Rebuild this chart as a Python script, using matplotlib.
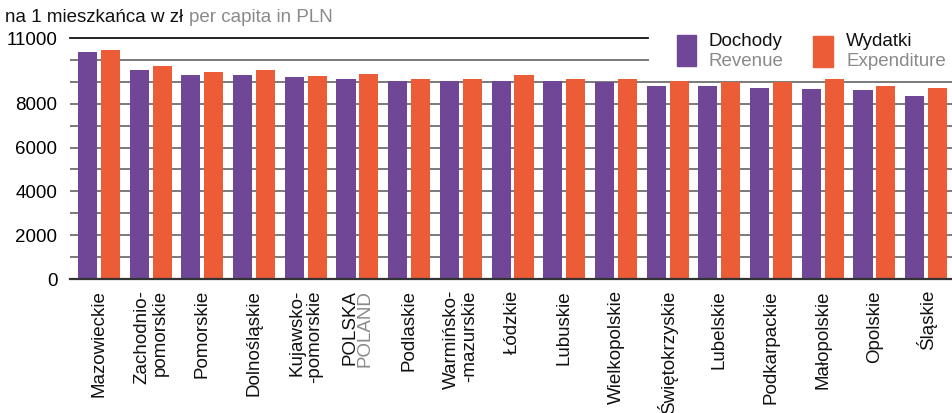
import matplotlib
matplotlib.use("Agg")
import matplotlib.pyplot as plt
import numpy as np
from matplotlib.patches import Rectangle

plt.rcParams['font.family'] = ['Liberation Sans', 'DejaVu Sans']

regions = ["Mazowieckie", "Zachodnio-\npomorskie", "Pomorskie", "Dolnośląskie",
           "Kujawsko-\n-pomorskie", "POLSKA", "Podlaskie", "Warmińsko-\n-mazurskie",
           "Łódzkie", "Lubuskie", "Wielkopolskie", "Świętokrzyskie", "Lubelskie",
           "Podkarpackie", "Małopolskie", "Opolskie", "Śląskie"]
revenue = [10340, 9560, 9290, 9290, 9200, 9110, 9060, 9060, 9020, 9020, 8970,
           8830, 8790, 8740, 8650, 8610, 8330]
expenditure = [10470, 9700, 9470, 9520, 9250, 9340, 9150, 9150, 9290, 9150, 9150,
               9020, 8970, 8970, 9110, 8830, 8700]
yticks = [0, 2000, 4000, 6000, 8000, 11000]

PURPLE = "#6F4796"
ORANGE = "#EB5C37"
GRAY = "#8a8a8a"
FS = 13.5

W, H = 952, 413
fig = plt.figure(figsize=(W/100, H/100), dpi=100)
ax = fig.add_axes([70/W, (H-279)/H, (W-70)/W, (279-38)/H])

x = np.arange(len(regions))
bw = 0.37
off = 0.222
ax.bar(x - off, revenue, bw, color=PURPLE, zorder=3)
ax.bar(x + off, expenditure, bw, color=ORANGE, zorder=3)

ax.set_xlim(-0.56, len(regions) - 0.5)
ax.set_ylim(0, 11000)

# gridlines
xcut = (648-70)/(W-70)
for v in range(1000, 11001, 1000):
    if v == 11000:
        ax.axhline(v, xmax=xcut, color="#111111", lw=1.3, zorder=1, clip_on=False)
    elif v == 10000:
        ax.axhline(v, xmax=xcut, color="#7a7a7a", lw=1.4, zorder=1)
    else:
        ax.axhline(v, color="#7a7a7a", lw=1.4, zorder=1)

for s in ["top", "right", "left"]:
    ax.spines[s].set_visible(False)
ax.spines["bottom"].set_color("#333333")
ax.spines["bottom"].set_linewidth(1.6)
ax.spines["bottom"].set_zorder(4)

ax.set_yticks(yticks)
ax.set_yticklabels([str(v) for v in yticks], fontsize=FS)
ax.tick_params(axis="y", length=0, pad=9)
ax.set_xticks([])

# x labels
for i, lab in enumerate(regions):
    if lab == "POLSKA":
        ax.annotate("POLSKA", xy=(i, 0), xycoords=("data", "axes fraction"),
                    xytext=(-5.5, -8), textcoords="offset points",
                    rotation=90, ha="center", va="top", fontsize=FS, color="#111111")
        ax.annotate("POLAND", xy=(i, 0), xycoords=("data", "axes fraction"),
                    xytext=(5.5, -8), textcoords="offset points",
                    rotation=90, ha="center", va="top", fontsize=FS, color=GRAY)
    else:
        ax.annotate(lab, xy=(i, 0), xycoords=("data", "axes fraction"),
                    xytext=(0, -8), textcoords="offset points",
                    rotation=90, ha="center", va="top", multialignment="right",
                    fontsize=FS, color="#111111", linespacing=1.1)

# title
fig.text(5/W, 1 - 17/H, "na 1 mieszkańca w zł", fontsize=FS, va="center", ha="left", color="#111111")
fig.text(189/W, 1 - 17/H, "per capita in PLN", fontsize=FS, va="center", ha="left", color=GRAY)

# legend
fig.patches.append(Rectangle((677/W, 1 - 66/H), 19/W, 31/H, transform=fig.transFigure,
                             color=PURPLE, figure=fig))
fig.patches.append(Rectangle((813/W, 1 - 67/H), 20/W, 31/H, transform=fig.transFigure,
                             color=ORANGE, figure=fig))
fig.text(708/W, 1 - 42/H, "Dochody", fontsize=FS, va="center", ha="left", color="#111111")
fig.text(708/W, 1 - 62/H, "Revenue", fontsize=FS, va="center", ha="left", color=GRAY)
fig.text(846/W, 1 - 42/H, "Wydatki", fontsize=FS, va="center", ha="left", color="#111111")
fig.text(846/W, 1 - 62/H, "Expenditure", fontsize=FS, va="center", ha="left", color=GRAY)

fig.savefig("out.png", dpi=100)
